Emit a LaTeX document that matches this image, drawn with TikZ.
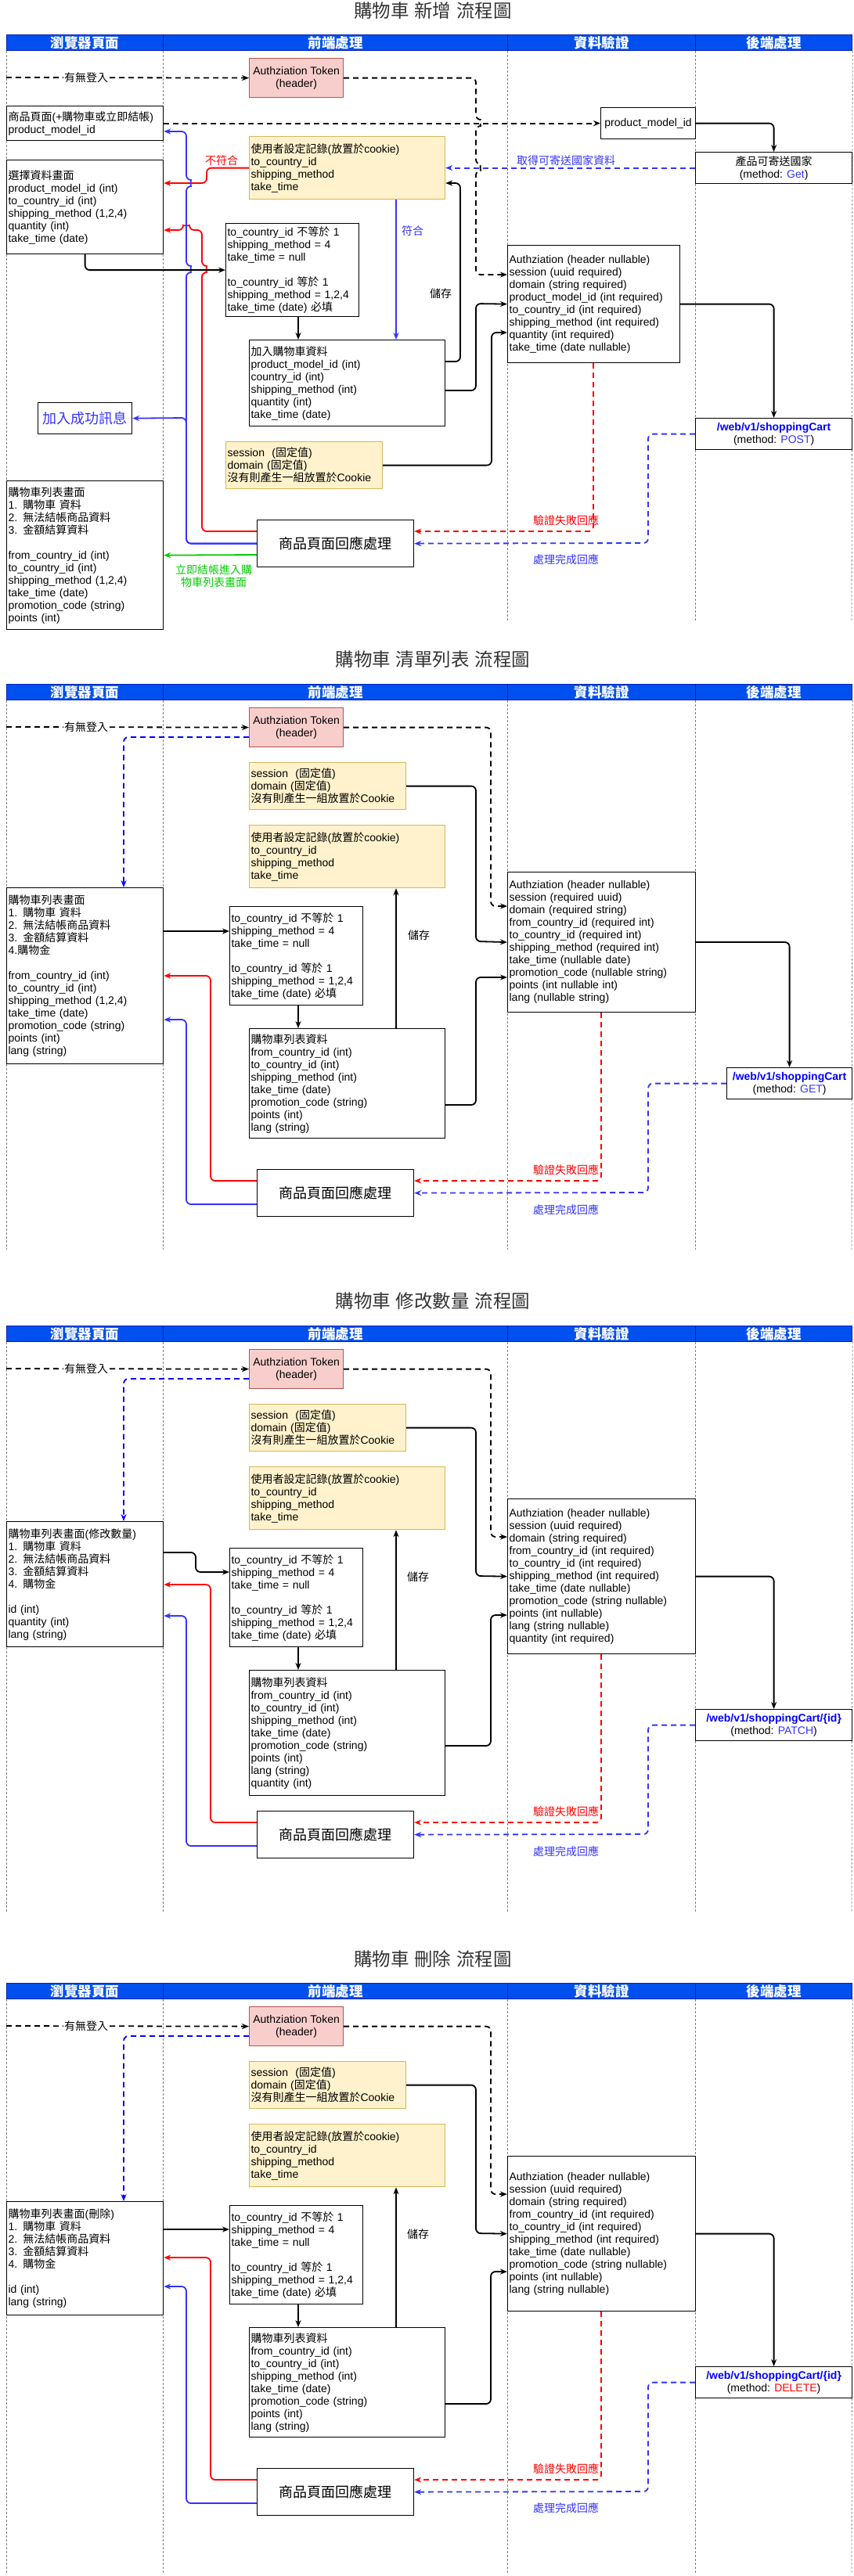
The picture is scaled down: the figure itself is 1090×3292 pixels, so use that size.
\documentclass[tikz,border=0pt]{standalone}
\usepackage{fontspec}
\setmainfont{Liberation Sans}
\newfontfamily\cjkfont{Noto Sans CJK TC}
\usetikzlibrary{arrows.meta}

% runs of CJK characters are set in the CJK font
\XeTeXinterchartokenstate=1
\chardef\cjkclass=9
\newcount\cjkcode
\cjkcode="2E80
\loop
  \XeTeXcharclass\cjkcode=\cjkclass
  \advance\cjkcode by 1
\ifnum\cjkcode<"A000 \repeat
\cjkcode="FF00
\loop
  \XeTeXcharclass\cjkcode=\cjkclass
  \advance\cjkcode by 1
\ifnum\cjkcode<"FFF0 \repeat
\XeTeXinterchartoks 0 \cjkclass={\begingroup\cjkfont}
\XeTeXinterchartoks 1 \cjkclass={\begingroup\cjkfont}
\XeTeXinterchartoks 2 \cjkclass={\begingroup\cjkfont}
\XeTeXinterchartoks 3 \cjkclass={\begingroup\cjkfont}
\XeTeXinterchartoks 4095 \cjkclass={\begingroup\cjkfont}
\XeTeXinterchartoks \cjkclass 0={\endgroup}
\XeTeXinterchartoks \cjkclass 1={\endgroup}
\XeTeXinterchartoks \cjkclass 2={\endgroup}
\XeTeXinterchartoks \cjkclass 3={\endgroup}
\XeTeXinterchartoks \cjkclass 4095={\endgroup}

\definecolor{hdfill}{HTML}{0050EF}
\definecolor{hdline}{HTML}{001DBC}
\definecolor{tokfill}{HTML}{F8CECC}
\definecolor{tokline}{HTML}{B85450}
\definecolor{notefill}{HTML}{FFF2CC}
\definecolor{noteline}{HTML}{D6B656}
\definecolor{cblue}{HTML}{3333FF}
\definecolor{pblue}{HTML}{0000FF}
\definecolor{cred}{HTML}{FF0000}
\definecolor{cgreen}{HTML}{00CC00}
\definecolor{lanegray}{HTML}{808080}
\definecolor{ttlgray}{HTML}{333333}

\begin{document}
\begin{tikzpicture}
	[x=1pt, y=-1pt, >={Stealth[length=9pt,width=7pt]},
	 every node/.style={font=\fontsize{14}{16}\selectfont},
	 box/.style={draw, line width=1.2pt, fill=white, anchor=north west, align=left, inner xsep=2pt, inner ysep=0pt},
	 mid/.style={draw, line width=1.2pt, fill=white, anchor=north west, align=center, inner sep=0pt},
	 tok/.style={mid, draw=tokline, fill=tokfill, minimum width=120pt, minimum height=50pt},
	 note/.style={box, draw=noteline, fill=notefill},
	 api/.style={mid, minimum height=40pt},
	 resp/.style={mid, minimum width=200pt, minimum height=60pt, font=\fontsize{18}{20}\selectfont},
	 head/.style={draw=hdline, fill=hdfill, line width=1.2pt, text=white, anchor=north west, minimum height=20pt, inner sep=0pt, font=\fontsize{17.5}{20}\selectfont\bfseries},
	 lane/.style={draw=lanegray, line width=0.8pt, dash pattern=on 2.5pt off 2.5pt},
	 ttl/.style={text=ttlgray, font=\fontsize{23.5}{26}\selectfont},
	 flow/.style={->, line width=1.8pt, rounded corners=6pt},
	 dflow/.style={flow, dash pattern=on 7pt off 5pt},
	 lbl/.style={inner sep=1pt}]
	\useasboundingbox (0,0) rectangle (1090,3292);

	% ---------- 新增 ----------
	\node (ttl1)[ttl] at (553,14) {購物車 新增 流程圖};
	\node (hd1a)[head, minimum width=200pt] at (8,44) {瀏覽器頁面};
	\node (hd1b)[head, minimum width=440pt] at (208,44) {前端處理};
	\node (hd1c)[head, minimum width=240pt] at (648,44) {資料驗證};
	\node (hd1d)[head, minimum width=200pt] at (888,44) {後端處理};
	\draw[lane] (hd1a.south west) -- (8,795);
	\draw[lane] (hd1b.south west) -- (208,795);
	\draw[lane] (hd1c.south west) -- (648,795);
	\draw[lane] (hd1d.south west) -- (888,795);
	\draw[lane] (hd1d.south east) -- (1088,795);

	\node (tok1)[tok] at (318,74) {Authziation Token\\(header)};
	\node (page1)[box, text width=196pt, minimum height=44pt] at (8,135) {商品頁面(+購物車或立即結帳)\\product\_model\_id};
	\node (pmid1)[mid, minimum width=121pt, minimum height=40pt] at (767,137) {product\_model\_id};
	\node (ctry1)[api, minimum width=200pt] at (888,194) {產品可寄送國家\\(method: \textcolor{cblue}{Get})};
	\node (pref1)[note, text width=246pt, minimum height=80pt] at (318,174) {使用者設定記錄(放置於cookie)\\to\_country\_id\\shipping\_method\\take\_time};
	\node (sel1)[box, text width=196pt, minimum height=120pt] at (8,204) {選擇資料畫面\\product\_model\_id (int)\\to\_country\_id (int)\\shipping\_method (1,2,4)\\quantity (int)\\take\_time (date)};
	\node (cond1)[box, text width=166pt, minimum height=119pt] at (288,285) {to\_country\_id 不等於 1\\shipping\_method = 4\\take\_time = null\\[16pt]to\_country\_id 等於 1\\shipping\_method = 1,2,4\\take\_time (date) 必填};
	\node (add1)[box, text width=246pt, minimum height=110pt] at (318,434) {加入購物車資料\\product\_model\_id (int)\\country\_id (int)\\shipping\_method (int)\\quantity (int)\\take\_time (date)};
	\node (sess1)[note, text width=196pt, minimum height=60pt] at (288,564) {session\ \ (固定值)\\domain (固定值)\\沒有則產生一組放置於Cookie};
	\node (msg1)[mid, minimum width=120pt, minimum height=40pt, text=cblue, font=\fontsize{18}{20}\selectfont] at (48,514) {加入成功訊息};
	\node (resp1)[resp] at (328,664) {商品頁面回應處理};
	\node (list1)[box, text width=196pt, minimum height=190pt] at (8,614) {購物車列表畫面\\1. 購物車 資料\\2. 無法結帳商品資料\\3. 金額結算資料\\[16pt]from\_country\_id (int)\\to\_country\_id (int)\\shipping\_method (1,2,4)\\take\_time (date)\\promotion\_code (string)\\points (int)};
	\node (chk1)[box, text width=216pt, minimum height=150pt] at (648,313) {Authziation (header nullable)\\session (uuid required)\\domain (string required)\\product\_model\_id (int required)\\to\_country\_id (int required)\\shipping\_method (int required)\\quantity (int required)\\take\_time (date nullable)};
	\node (api1)[api, minimum width=200pt] at (888,534) {\textcolor{pblue}{\textbf{/web/v1/shoppingCart}}\\(method: \textcolor{cblue}{POST})};

	\coordinate (in1) at (8,99);
	\draw[dflow] (in1) -- (tok1.west);
	\node (lg1)[lbl, fill=white] at (110,99) {有無登入};
	\draw[dflow] (tok1.east) -| (608,153) .. controls (613.5,153) and (613.5,161) .. (608,161) -- (608,210) .. controls (613.5,210) and (613.5,218) .. (608,218) -- (608,351) -- (chk1.west |- 0,351);
	\draw[dflow] (page1.east) -- (pmid1.west);
	\draw[flow] (pmid1.east) -| (ctry1.north);
	\draw[dflow, cblue] (ctry1.west) -- (pref1.east);
	\node (lq1)[lbl, text=cblue] at (723,205) {取得可寄送國家資料};
	\draw[flow] (add1.east |- 0,462) -| (588,234) -- (pref1.east |- 0,234);
	\node (ls1)[lbl] at (563,375) {儲存};
	\draw[flow] (add1.east |- 0,499) -| (608,388) -- (chk1.west);
	\draw[flow] (sess1.east) -| (628,425) -- (chk1.west |- 0,425);
	\draw[flow] (chk1.east) -| (api1.north);
	\draw[flow, cblue] (pref1.south -| 506,0) -- (add1.north -| 506,0);
	\node (lm1)[lbl, text=cblue] at (527,295) {符合};
	\draw[flow, cred] (pref1.west) -| (264,234) -- (sel1.east |- 0,234);
	\node (ln1)[lbl, text=cred] at (283,205) {不符合};
	\draw[flow, cred] (resp1.west |- 0,679) -| (258,348) .. controls (263.5,348) and (263.5,340) .. (258,340) -- (258,294) -- (242,294) .. controls (242,288.5) and (234,288.5) .. (234,294) -- (sel1.east |- 0,294);
	\draw[flow, cblue] (resp1.west) -| (238,348) .. controls (243.5,348) and (243.5,340) .. (238,340) -- (238,238) .. controls (243.5,238) and (243.5,230) .. (238,230) -- (238,168) -- (page1.east |- 0,168);
	\draw[flow, cblue] (resp1.west) -| (238,534) -- (msg1.east);
	\draw[flow] (sel1.south) |- (cond1.west);
	\draw[flow] (cond1.south -| 381,0) -- (add1.north -| 381,0);
	\draw[flow, cgreen] (resp1.west |- 0,709) -- (list1.east);
	\node (lj1)[lbl, text=cgreen, align=center] at (273,736) {立即結帳進入購\\物車列表畫面};
	\draw[dflow, cred] (chk1.south -| 758,0) |- (resp1.east |- 0,679);
	\node (lf1)[lbl, text=cred] at (723,665) {驗證失敗回應};
	\draw[dflow, cblue] (api1.west) -| (828,694) -- (resp1.east);
	\node (ld1)[lbl, text=cblue] at (723,715) {處理完成回應};

	% ---------- 清單列表 ----------
	\node (ttl2)[ttl] at (553,843) {購物車 清單列表 流程圖};
	\node (hd2a)[head, minimum width=200pt] at (8,874) {瀏覽器頁面};
	\node (hd2b)[head, minimum width=440pt] at (208,874) {前端處理};
	\node (hd2c)[head, minimum width=240pt] at (648,874) {資料驗證};
	\node (hd2d)[head, minimum width=200pt] at (888,874) {後端處理};
	\draw[lane] (hd2a.south west) -- (8,1597);
	\draw[lane] (hd2b.south west) -- (208,1597);
	\draw[lane] (hd2c.south west) -- (648,1597);
	\draw[lane] (hd2d.south west) -- (888,1597);
	\draw[lane] (hd2d.south east) -- (1088,1597);

	\node (tok2)[tok] at (318,904) {Authziation Token\\(header)};
	\node (sess2)[note, text width=196pt, minimum height=60pt] at (318,974) {session\ \ (固定值)\\domain (固定值)\\沒有則產生一組放置於Cookie};
	\node (pref2)[note, text width=246pt, minimum height=80pt] at (318,1054) {使用者設定記錄(放置於cookie)\\to\_country\_id\\shipping\_method\\take\_time};
	\node (list2)[box, text width=196pt, minimum height=225pt] at (8,1134) {購物車列表畫面\\1. 購物車 資料\\2. 無法結帳商品資料\\3. 金額結算資料\\4.購物金\\[16pt]from\_country\_id (int)\\to\_country\_id (int)\\shipping\_method (1,2,4)\\take\_time (date)\\promotion\_code (string)\\points (int)\\lang (string)};
	\node (cond2)[box, text width=166pt, minimum height=126pt] at (293,1158) {to\_country\_id 不等於 1\\shipping\_method = 4\\take\_time = null\\[16pt]to\_country\_id 等於 1\\shipping\_method = 1,2,4\\take\_time (date) 必填};
	\node (data2)[box, text width=246pt, minimum height=140pt] at (318,1314) {購物車列表資料\\from\_country\_id (int)\\to\_country\_id (int)\\shipping\_method (int)\\take\_time (date)\\promotion\_code (string)\\points (int)\\lang (string)};
	\node (resp2)[resp] at (328,1494) {商品頁面回應處理};
	\node (chk2)[box, text width=236pt, minimum height=179pt] at (648,1114) {Authziation (header nullable)\\session (required uuid)\\domain (required string)\\from\_country\_id (required int)\\to\_country\_id (required int)\\shipping\_method (required int)\\take\_time (nullable date)\\promotion\_code (nullable string)\\points (int nullable int)\\lang (nullable string)};
	\node (api2)[api, minimum width=160pt] at (928,1364) {\textcolor{pblue}{\textbf{/web/v1/shoppingCart}}\\(method: \textcolor{cblue}{GET})};

	\coordinate (in2) at (8,929);
	\draw[dflow] (in2) -- (tok2.west);
	\node (lg2)[lbl, fill=white] at (110,929) {有無登入};
	\draw[dflow] (tok2.east) -| (627,1158) -- (chk2.west |- 0,1158);
	\draw[dflow, pblue] (tok2.west |- 0,942) -| (list2.north -| 158,0);
	\draw[flow] (sess2.east) -| (608,1203) -- (chk2.west);
	\draw[flow] (list2.east |- 0,1190) -- (cond2.west |- 0,1190);
	\draw[flow] (cond2.south -| 381,0) -- (data2.north -| 381,0);
	\draw[flow] (data2.north -| 506,0) -- (pref2.south -| 506,0);
	\node (ls2)[lbl] at (535,1195) {儲存};
	\draw[flow] (data2.east |- 0,1412) -| (608,1249) -- (chk2.west |- 0,1249);
	\draw[flow] (chk2.east |- 0,1204) -| (api2.north);
	\draw[flow, cred] (resp2.west |- 0,1509) -| (269,1247) -- (list2.east |- 0,1247);
	\draw[flow, cblue] (resp2.west |- 0,1539) -| (238,1303) -- (list2.east |- 0,1303);
	\draw[dflow, cred] (chk2.south -| 768,0) |- (resp2.east |- 0,1509);
	\node (lf2)[lbl, text=cred] at (723,1495) {驗證失敗回應};
	\draw[dflow, cblue] (api2.west) -| (828,1524) -- (resp2.east);
	\node (ld2)[lbl, text=cblue] at (723,1546) {處理完成回應};

	% ---------- 修改數量 ----------
	\node (ttl3)[ttl] at (553,1663) {購物車 修改數量 流程圖};
	\node (hd3a)[head, minimum width=200pt] at (8,1694) {瀏覽器頁面};
	\node (hd3b)[head, minimum width=440pt] at (208,1694) {前端處理};
	\node (hd3c)[head, minimum width=240pt] at (648,1694) {資料驗證};
	\node (hd3d)[head, minimum width=200pt] at (888,1694) {後端處理};
	\draw[lane] (hd3a.south west) -- (8,2445);
	\draw[lane] (hd3b.south west) -- (208,2445);
	\draw[lane] (hd3c.south west) -- (648,2445);
	\draw[lane] (hd3d.south west) -- (888,2445);
	\draw[lane] (hd3d.south east) -- (1088,2445);

	\node (tok3)[tok] at (318,1724) {Authziation Token\\(header)};
	\node (sess3)[note, text width=196pt, minimum height=60pt] at (318,1794) {session\ \ (固定值)\\domain (固定值)\\沒有則產生一組放置於Cookie};
	\node (pref3)[note, text width=246pt, minimum height=80pt] at (318,1874) {使用者設定記錄(放置於cookie)\\to\_country\_id\\shipping\_method\\take\_time};
	\node (list3)[box, text width=196pt, minimum height=160pt] at (8,1944) {購物車列表畫面(修改數量)\\1. 購物車 資料\\2. 無法結帳商品資料\\3. 金額結算資料\\4. 購物金\\[16pt]id (int)\\quantity (int)\\lang (string)};
	\node (cond3)[box, text width=166pt, minimum height=126pt] at (293,1978) {to\_country\_id 不等於 1\\shipping\_method = 4\\take\_time = null\\[16pt]to\_country\_id 等於 1\\shipping\_method = 1,2,4\\take\_time (date) 必填};
	\node (data3)[box, text width=246pt, minimum height=160pt] at (318,2134) {購物車列表資料\\from\_country\_id (int)\\to\_country\_id (int)\\shipping\_method (int)\\take\_time (date)\\promotion\_code (string)\\points (int)\\lang (string)\\quantity (int)};
	\node (resp3)[resp] at (328,2314) {商品頁面回應處理};
	\node (chk3)[box, text width=236pt, minimum height=198pt] at (648,1915) {Authziation (header nullable)\\session (uuid required)\\domain (string required)\\from\_country\_id (int required)\\to\_country\_id (int required)\\shipping\_method (int required)\\take\_time (date nullable)\\promotion\_code (string nullable)\\points (int nullable)\\lang (string nullable)\\quantity (int required)};
	\node (api3)[api, minimum width=200pt] at (888,2184) {\textcolor{pblue}{\textbf{/web/v1/shoppingCart/\{id\}}}\\(method: \textcolor{cblue}{PATCH})};

	\coordinate (in3) at (8,1749);
	\draw[dflow] (in3) -- (tok3.west);
	\node (lg3)[lbl, fill=white] at (110,1749) {有無登入};
	\draw[dflow] (tok3.east) -| (627,1964) -- (chk3.west |- 0,1964);
	\draw[dflow, pblue] (tok3.west |- 0,1762) -| (list3.north -| 158,0);
	\draw[flow] (sess3.east) -| (608,2014) -- (chk3.west);
	\draw[flow] (list3.east |- 0,1984) -| (250,2009) -- (cond3.west |- 0,2009);
	\draw[flow] (cond3.south -| 381,0) -- (data3.north -| 381,0);
	\draw[flow] (data3.north -| 506,0) -- (pref3.south -| 506,0);
	\node (ls3)[lbl] at (534,2015) {儲存};
	\draw[flow] (data3.east |- 0,2231) -| (627,2064) -- (chk3.west |- 0,2064);
	\draw[flow] (chk3.east) -| (api3.north);
	\draw[flow, cred] (resp3.west |- 0,2329) -| (269,2025) -- (list3.east |- 0,2025);
	\draw[flow, cblue] (resp3.west |- 0,2359) -| (238,2065) -- (list3.east |- 0,2065);
	\draw[dflow, cred] (chk3.south -| 768,0) |- (resp3.east |- 0,2329);
	\node (lf3)[lbl, text=cred] at (723,2315) {驗證失敗回應};
	\draw[dflow, cblue] (api3.west) -| (828,2344) -- (resp3.east);
	\node (ld3)[lbl, text=cblue] at (723,2366) {處理完成回應};

	% ---------- 刪除 ----------
	\node (ttl4)[ttl] at (553,2503) {購物車 刪除 流程圖};
	\node (hd4a)[head, minimum width=200pt] at (8,2534) {瀏覽器頁面};
	\node (hd4b)[head, minimum width=440pt] at (208,2534) {前端處理};
	\node (hd4c)[head, minimum width=240pt] at (648,2534) {資料驗證};
	\node (hd4d)[head, minimum width=200pt] at (888,2534) {後端處理};
	\draw[lane] (hd4a.south west) -- (8,3288);
	\draw[lane] (hd4b.south west) -- (208,3288);
	\draw[lane] (hd4c.south west) -- (648,3288);
	\draw[lane] (hd4d.south west) -- (888,3288);
	\draw[lane] (hd4d.south east) -- (1088,3288);

	\node (tok4)[tok] at (318,2564) {Authziation Token\\(header)};
	\node (sess4)[note, text width=196pt, minimum height=60pt] at (318,2634) {session\ \ (固定值)\\domain (固定值)\\沒有則產生一組放置於Cookie};
	\node (pref4)[note, text width=246pt, minimum height=80pt] at (318,2714) {使用者設定記錄(放置於cookie)\\to\_country\_id\\shipping\_method\\take\_time};
	\node (list4)[box, text width=196pt, minimum height=145pt] at (8,2813) {購物車列表畫面(刪除)\\1. 購物車 資料\\2. 無法結帳商品資料\\3. 金額結算資料\\4. 購物金\\[16pt]id (int)\\lang (string)};
	\node (cond4)[box, text width=166pt, minimum height=126pt] at (293,2818) {to\_country\_id 不等於 1\\shipping\_method = 4\\take\_time = null\\[16pt]to\_country\_id 等於 1\\shipping\_method = 1,2,4\\take\_time (date) 必填};
	\node (data4)[box, text width=246pt, minimum height=140pt] at (318,2974) {購物車列表資料\\from\_country\_id (int)\\to\_country\_id (int)\\shipping\_method (int)\\take\_time (date)\\promotion\_code (string)\\points (int)\\lang (string)};
	\node (resp4)[resp] at (328,3154) {商品頁面回應處理};
	\node (chk4)[box, text width=236pt, minimum height=198pt] at (648,2755) {Authziation (header nullable)\\session (uuid required)\\domain (string required)\\from\_country\_id (int required)\\to\_country\_id (int required)\\shipping\_method (int required)\\take\_time (date nullable)\\promotion\_code (string nullable)\\points (int nullable)\\lang (string nullable)};
	\node (api4)[api, minimum width=200pt] at (888,3024) {\textcolor{pblue}{\textbf{/web/v1/shoppingCart/\{id\}}}\\(method: \textcolor{cred}{DELETE})};

	\coordinate (in4) at (8,2589);
	\draw[dflow] (in4) -- (tok4.west);
	\node (lg4)[lbl, fill=white] at (110,2589) {有無登入};
	\draw[dflow] (tok4.east) -| (627,2804) -- (chk4.west |- 0,2804);
	\draw[dflow, pblue] (tok4.west |- 0,2602) -| (list4.north -| 158,0);
	\draw[flow] (sess4.east) -| (608,2854) -- (chk4.west);
	\draw[flow] (list4.east |- 0,2849) -- (cond4.west |- 0,2849);
	\draw[flow] (cond4.south -| 381,0) -- (data4.north -| 381,0);
	\draw[flow] (data4.north -| 506,0) -- (pref4.south -| 506,0);
	\node (ls4)[lbl] at (534,2855) {儲存};
	\draw[flow] (data4.east |- 0,3072) -| (627,2903) -- (chk4.west |- 0,2903);
	\draw[flow] (chk4.east) -| (api4.north);
	\draw[flow, cred] (resp4.west |- 0,3169) -| (269,2885) -- (list4.east |- 0,2885);
	\draw[flow, cblue] (resp4.west |- 0,3199) -| (238,2922) -- (list4.east |- 0,2922);
	\draw[dflow, cred] (chk4.south -| 768,0) |- (resp4.east |- 0,3169);
	\node (lf4)[lbl, text=cred] at (723,3155) {驗證失敗回應};
	\draw[dflow, cblue] (api4.west) -| (828,3184) -- (resp4.east);
	\node (ld4)[lbl, text=cblue] at (723,3205) {處理完成回應};
\end{tikzpicture}
\end{document}
